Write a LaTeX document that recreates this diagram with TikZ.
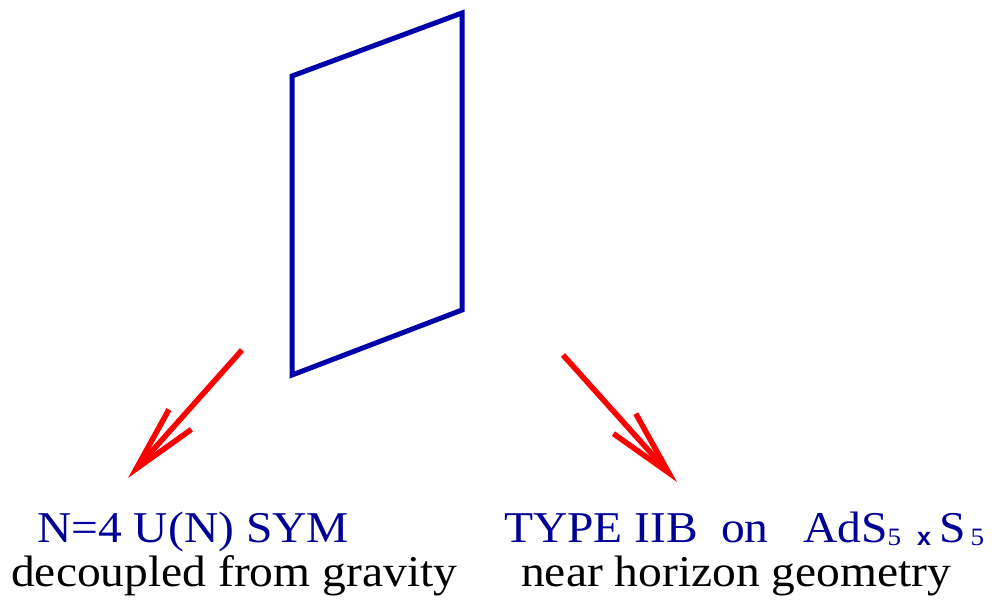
\documentclass[tikz,border=0pt]{standalone}
\usepackage{fontspec}
\setmainfont[FakeStretch=1.08]{Liberation Serif}
\newfontfamily\xfont{Liberation Sans}
\usetikzlibrary{arrows.meta}
\definecolor{pblue}{RGB}{0,0,170}
\definecolor{tblue}{RGB}{0,0,150}
\tikzset{
  plate/.style={draw=pblue, line width=5pt, line join=miter},
  redarrow/.style={draw=red, line width=5.5pt, -{Straight Barb[length=66pt,width=30pt,line join=miter]}},
  bluetext/.style={text=tblue, inner sep=0pt, anchor=base west, font=\fontsize{44}{48}\selectfont},
  blacktext/.style={text=black, inner sep=0pt, anchor=base west, font=\fontsize{44}{48}\selectfont},
}
\newcommand{\smallfive}{\raisebox{-3pt}{\fontsize{25}{27}\selectfont 5}}
\begin{document}
\begin{tikzpicture}[x=1pt,y=-1pt]
\useasboundingbox (0,0) rectangle (998,600);
\coordinate (p1) at (292,76);
\coordinate (p2) at (462,13);
\coordinate (p3) at (462,310);
\coordinate (p4) at (292,375);
\draw[plate] (p1) -- (p2) -- (p3) -- (p4) -- cycle;
\coordinate (s1) at (242,350);
\coordinate (e1) at (128,478);
\coordinate (s2) at (563,355);
\coordinate (e2) at (677,482);
\draw[redarrow] (s1) -- (e1);
\draw[redarrow] (s2) -- (e2);
\node[bluetext] (sym) at (37,542) {N=4 U(N) SYM};
\node[blacktext] (dec) at (11,586) {decoupled from gravity};
\node[bluetext] (iib) at (504,542) {TYPE IIB};
\node[bluetext] (on) at (721,542) {on};
\node[bluetext] (ads) at (803,542) {AdS\smallfive\hspace{16pt}\raisebox{-3pt}{\fontsize{25}{27}\xfont\bfseries x}\hspace{8pt}S\hspace{5pt}\smallfive};
\node[blacktext] (near) at (521,586) {near horizon geometry};
\end{tikzpicture}
\end{document}
